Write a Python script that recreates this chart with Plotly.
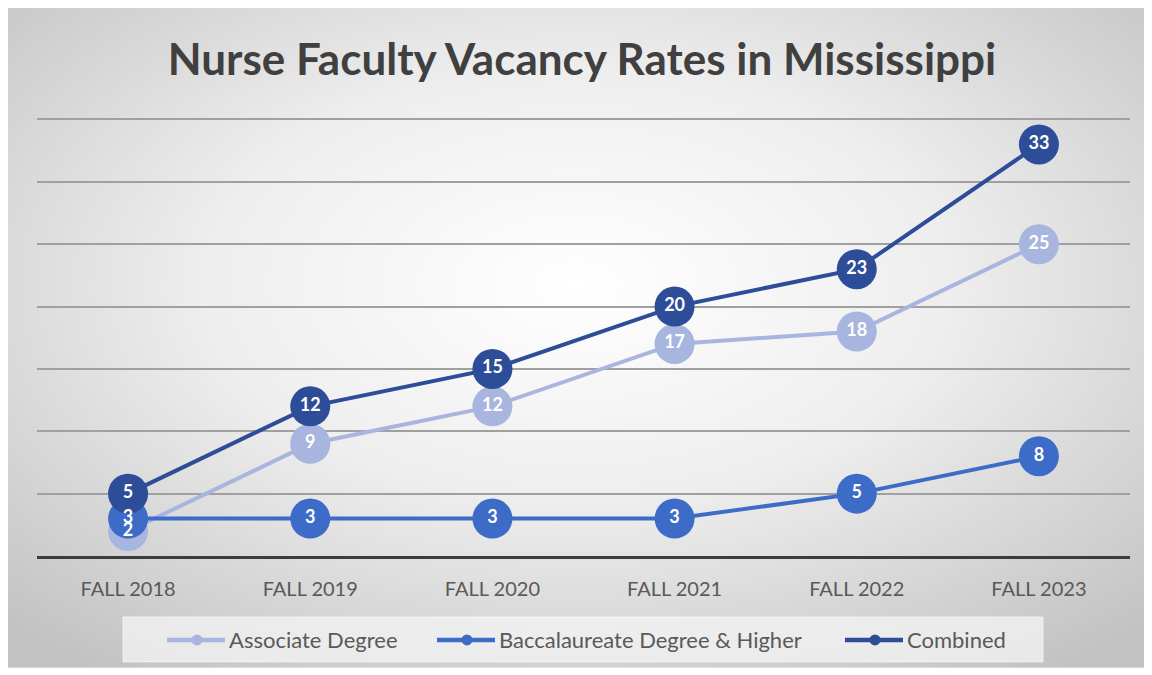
import base64
import plotly.graph_objects as go

categories = ["FALL 2018", "FALL 2019", "FALL 2020", "FALL 2021", "FALL 2022", "FALL 2023"]
associate = [2, 9, 12, 17, 18, 25]
baccalaureate = [3, 3, 3, 3, 5, 8]
combined = [5, 12, 15, 20, 23, 33]

series = [
    ("Associate Degree", associate, "#A8B5DF"),
    ("Baccalaureate Degree & Higher", baccalaureate, "#3D6BC8"),
    ("Combined", combined, "#2D4D98"),
]

FONT = "Lato"
OFF = 8  # page body margin offset

W, H = 1152, 675
Y_MAX = 35.2
# reference screen coords: x plot area, y of value 0 and value 35
PL, PR = 37 - OFF, 1130 - OFF
Y0S, Y35S = 556 - OFF, 119 - OFF
unit = (Y0S - Y35S) / 35.0
PB = Y0S
PT = Y0S - unit * Y_MAX
PW, PH = PR - PL, PB - PT


def px(xs):
    return (xs - OFF - PL) / PW


def py(ys):
    return (PB - (ys - OFF)) / PH


fig = go.Figure()

for name, vals, col in series:
    fig.add_trace(go.Scatter(
        x=categories, y=vals, mode="lines+markers", name=name,
        line=dict(color=col, width=4),
        marker=dict(size=40, color=col),
        showlegend=False, hoverinfo="skip",
    ))

for name, vals, col in series:
    fig.add_trace(go.Scatter(
        x=categories, y=vals, mode="text", text=[str(v) for v in vals],
        textposition="middle center",
        textfont=dict(family=FONT, size=18, color="white", weight="bold"),
        showlegend=False, hoverinfo="skip",
    ))

svg = (
    '<svg xmlns="http://www.w3.org/2000/svg" width="1141" height="662" '
    'viewBox="0 0 1141 662" preserveAspectRatio="none">'
    '<defs><radialGradient id="g" cx="50%" cy="42%" r="72%">'
    '<stop offset="0" stop-color="#ffffff"/>'
    '<stop offset="0.45" stop-color="#eeeeee"/>'
    '<stop offset="1" stop-color="#c2c2c2"/>'
    '</radialGradient></defs>'
    '<rect x="0" y="0" width="1141" height="662" fill="url(#g)"/>'
    '</svg>'
)
uri = "data:image/svg+xml;base64," + base64.b64encode(svg.encode()).decode()

fig.add_layout_image(dict(
    source=uri, xref="paper", yref="paper",
    x=px(7), y=py(7), sizex=(1147 - 7) / PW, sizey=(668 - 7) / PH,
    xanchor="left", yanchor="top", sizing="stretch", layer="below",
))

# legend box
fig.add_shape(type="rect", xref="paper", yref="paper",
              x0=px(123), x1=px(1043), y0=py(662), y1=py(617),
              fillcolor="rgba(244,244,244,0.75)",
              line=dict(color="rgba(255,255,255,0.6)", width=1), layer="below")

# manual legend entries (symbol start x in screen px)
legend_x = [167, 437, 845]
LY = 640
for (name, vals, col), sx in zip(series, legend_x):
    fig.add_shape(type="line", xref="paper", yref="paper",
                  x0=px(sx), x1=px(sx + 58), y0=py(LY), y1=py(LY),
                  line=dict(color=col, width=4.5))
    cx = sx + 30
    fig.add_shape(type="circle", xref="paper", yref="paper",
                  x0=px(cx - 5.5), x1=px(cx + 5.5), y0=py(LY + 5.5), y1=py(LY - 5.5),
                  fillcolor=col, line=dict(width=0))
    fig.add_annotation(text=name, xref="paper", yref="paper",
                       x=px(sx + 60), y=py(LY), xanchor="left", yanchor="middle",
                       showarrow=False,
                       font=dict(family=FONT, size=22, color="#595959"))

fig.update_layout(
    width=W, height=H,
    margin=dict(l=PL, r=W - PR, t=PT, b=H - PB),
    paper_bgcolor="white", plot_bgcolor="rgba(0,0,0,0)",
    title=dict(text="<b>Nurse Faculty Vacancy Rates in Mississippi</b>",
               x=(582 - OFF) / W, xanchor="center", y=1 - (60 - OFF) / H, yanchor="middle",
               font=dict(family=FONT, size=44, color="#404040")),
    showlegend=False,
    xaxis=dict(type="category", range=[-0.5, 5.5], showgrid=False,
               showline=True, linecolor="#3c3c3c", linewidth=2.5,
               ticks="", ticklabelstandoff=13,
               tickfont=dict(family=FONT, size=20, color="#595959")),
    yaxis=dict(range=[0, Y_MAX], dtick=5, showgrid=True, gridcolor="#a0a0a0", gridwidth=1.5,
               showticklabels=False, zeroline=False, showline=False, ticks=""),
)

fig.write_html("out.html")
